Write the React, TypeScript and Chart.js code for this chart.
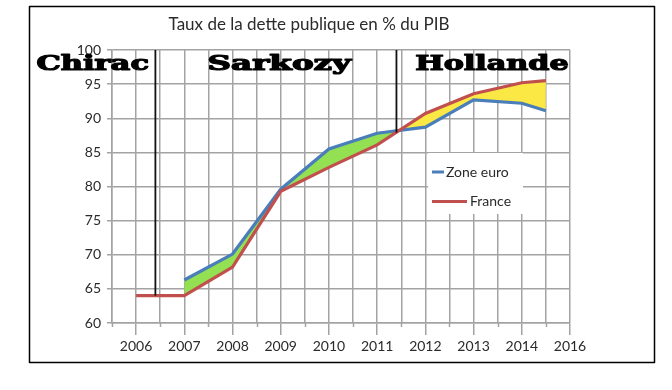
import React, { useEffect, useRef } from 'react';
import { Chart, registerables } from 'chart.js';

Chart.register(...registerables);

// ---- Data ----
const chartTitle = 'Taux de la dette publique en % du PIB';
const years = [2006, 2007, 2008, 2009, 2010, 2011, 2012, 2013, 2014, 2014.5];
const zoneEuro: (number | null)[] = [null, 66.3, 70.1, 79.6, 85.5, 87.8, 88.7, 92.7, 92.2, 91.1];
const france: (number | null)[] = [64, 64, 68.2, 79.3, 82.8, 86.1, 90.7, 93.6, 95.2, 95.5];
const seriesNames = ['Zone euro', 'France'];
const xTickValues = [2006, 2007, 2008, 2009, 2010, 2011, 2012, 2013, 2014, 2015];
const xTickLabels = ['2006', '2007', '2008', '2009', '2010', '2011', '2012', '2013', '2014', '2016'];
const presidents = ['Chirac', 'Sarkozy', 'Hollande'];
const presidentLabelX = [2005.1, 2008.97, 2013.38];
const presidentLabelY = 97.1;
const termChanges = [2006.4, 2011.4];
const termChangeBottoms = [64, 87.9];

// ---- Styles ----
const BLUE = '#4a7ebb';
const RED = '#c0504d';
const GREEN = '#93e052';
const YELLOW = '#fbe844';
const GRID = '#a3a3a3';
const TEXT = '#2a2a2a';
const FONT = 'Lato, "Open Sans", sans-serif';

const toPoints = (vals: (number | null)[]) =>
  years.map((x, i) => ({ x, y: vals[i] })).filter((p) => p.y !== null);

const isMajor = (v: number) => xTickValues.some((t) => Math.abs(t - v) < 1e-6);

const overlayPlugin = {
  id: 'overlay',
  afterDatasetsDraw(chart: any) {
    const { ctx, scales } = chart;
    const x = scales.x;
    const y = scales.y;
    ctx.save();
    // minor x ticks
    ctx.strokeStyle = GRID;
    ctx.lineWidth = 1.5;
    const bottom = chart.chartArea.bottom;
    x.ticks.forEach((t: any) => {
      if (!isMajor(t.value)) {
        const px = Math.round(x.getPixelForValue(t.value)) + 0.5;
        ctx.beginPath();
        ctx.moveTo(px, bottom);
        ctx.lineTo(px, bottom + 4);
        ctx.stroke();
      }
    });
    // term change lines
    ctx.strokeStyle = '#111';
    ctx.lineWidth = 1.8;
    termChanges.forEach((v, i) => {
      const px = x.getPixelForValue(v);
      ctx.beginPath();
      ctx.moveTo(px, y.getPixelForValue(100));
      ctx.lineTo(px, y.getPixelForValue(termChangeBottoms[i]));
      ctx.stroke();
    });
    // legend
    ctx.fillStyle = '#ffffff';
    ctx.fillRect(428, 153, 95, 61);
    ctx.lineCap = 'butt';
    ctx.lineWidth = 3;
    ctx.strokeStyle = BLUE;
    ctx.beginPath();
    ctx.moveTo(432, 172);
    ctx.lineTo(444, 172);
    ctx.stroke();
    ctx.strokeStyle = RED;
    ctx.beginPath();
    ctx.moveTo(432, 201.5);
    ctx.lineTo(467, 201.5);
    ctx.stroke();
    ctx.fillStyle = TEXT;
    ctx.font = '14px ' + FONT;
    ctx.textBaseline = 'middle';
    ctx.textAlign = 'left';
    ctx.fillText(seriesNames[0], 446, 172);
    ctx.fillText(seriesNames[1], 470, 201);
    ctx.restore();
  },
  afterDraw(chart: any) {
    const { ctx, scales } = chart;
    const x = scales.x;
    const y = scales.y;
    ctx.save();
    // title
    ctx.fillStyle = TEXT;
    ctx.font = '17px ' + FONT;
    ctx.textAlign = 'center';
    ctx.textBaseline = 'middle';
    ctx.fillText(chartTitle, 309, 25);
    // president names
    const widths = [114, 145, 155];
    ctx.font = 'bold 20px "DejaVu Serif", serif';
    ctx.fillStyle = '#000';
    ctx.strokeStyle = '#000';
    ctx.lineWidth = 1.2;
    ctx.lineJoin = 'round';
    ctx.textBaseline = 'alphabetic';
    ctx.textAlign = 'center';
    presidents.forEach((name, i) => {
      const w = ctx.measureText(name).width;
      const sx = widths[i] / (w + 1);
      const cx = x.getPixelForValue(presidentLabelX[i]);
      const cy = y.getPixelForValue(presidentLabelY);
      ctx.save();
      ctx.translate(cx, cy);
      ctx.scale(sx, 1);
      ctx.fillText(name, 0, 0);
      ctx.strokeText(name, 0, 0);
      ctx.restore();
    });
    // frame
    ctx.strokeStyle = '#000';
    ctx.lineWidth = 1.5;
    ctx.strokeRect(29.5, 6.5, 625, 356);
    ctx.restore();
  },
};

export default function App() {
  const canvasRef = useRef<HTMLCanvasElement | null>(null);

  useEffect(() => {
    if (!canvasRef.current) return;
    const chart = new Chart(canvasRef.current, {
      type: 'line',
      data: {
        datasets: [
          {
            label: seriesNames[1],
            data: toPoints(france) as any,
            borderColor: RED,
            backgroundColor: RED,
            borderWidth: 3.2,
            pointRadius: 0,
            tension: 0,
            fill: false,
          },
          {
            label: seriesNames[0],
            data: toPoints(zoneEuro) as any,
            borderColor: BLUE,
            backgroundColor: BLUE,
            borderWidth: 3.2,
            pointRadius: 0,
            tension: 0,
            fill: { target: 0, above: GREEN, below: YELLOW },
          },
        ],
      },
      options: {
        animation: false,
        responsive: false,
        layout: { padding: { left: 40, right: 102, top: 50, bottom: 27 } },
        plugins: {
          legend: { display: false },
          title: { display: false },
          tooltip: { enabled: false },
        },
        scales: {
          x: {
            type: 'linear',
            min: 2005.5,
            max: 2015,
            afterFit: (s: any) => {
              s.height = 40;
            },
            border: { color: GRID, width: 1.5 },
            grid: {
              color: GRID,
              lineWidth: 1.5,
              tickLength: 12,
              tickColor: (c: any) => (c.tick && isMajor(c.tick.value) ? GRID : 'rgba(0,0,0,0)'),
            },
            ticks: {
              stepSize: 0.5,
              autoSkip: false,
              maxRotation: 0,
              padding: 3,
              color: TEXT,
              font: { family: FONT, size: 14 },
              callback: (v: any) => {
                const idx = xTickValues.findIndex((t) => Math.abs(t - Number(v)) < 1e-6);
                return idx >= 0 ? xTickLabels[idx] : '';
              },
            },
          },
          y: {
            min: 60,
            max: 100,
            afterFit: (s: any) => {
              s.width = 72;
            },
            border: { color: GRID, width: 1.5 },
            grid: { color: GRID, lineWidth: 1.5, tickLength: 5 },
            ticks: {
              stepSize: 5,
              padding: 6,
              color: TEXT,
              font: { family: FONT, size: 14 },
            },
          },
        },
      },
      plugins: [overlayPlugin],
    });
    return () => chart.destroy();
  }, []);

  return (
    <div style={{ position: 'absolute', left: 0, top: 0, width: 672, height: 390, background: '#fff' }}>
      <canvas ref={canvasRef} width={672} height={390} style={{ display: 'block' }} />
    </div>
  );
}
